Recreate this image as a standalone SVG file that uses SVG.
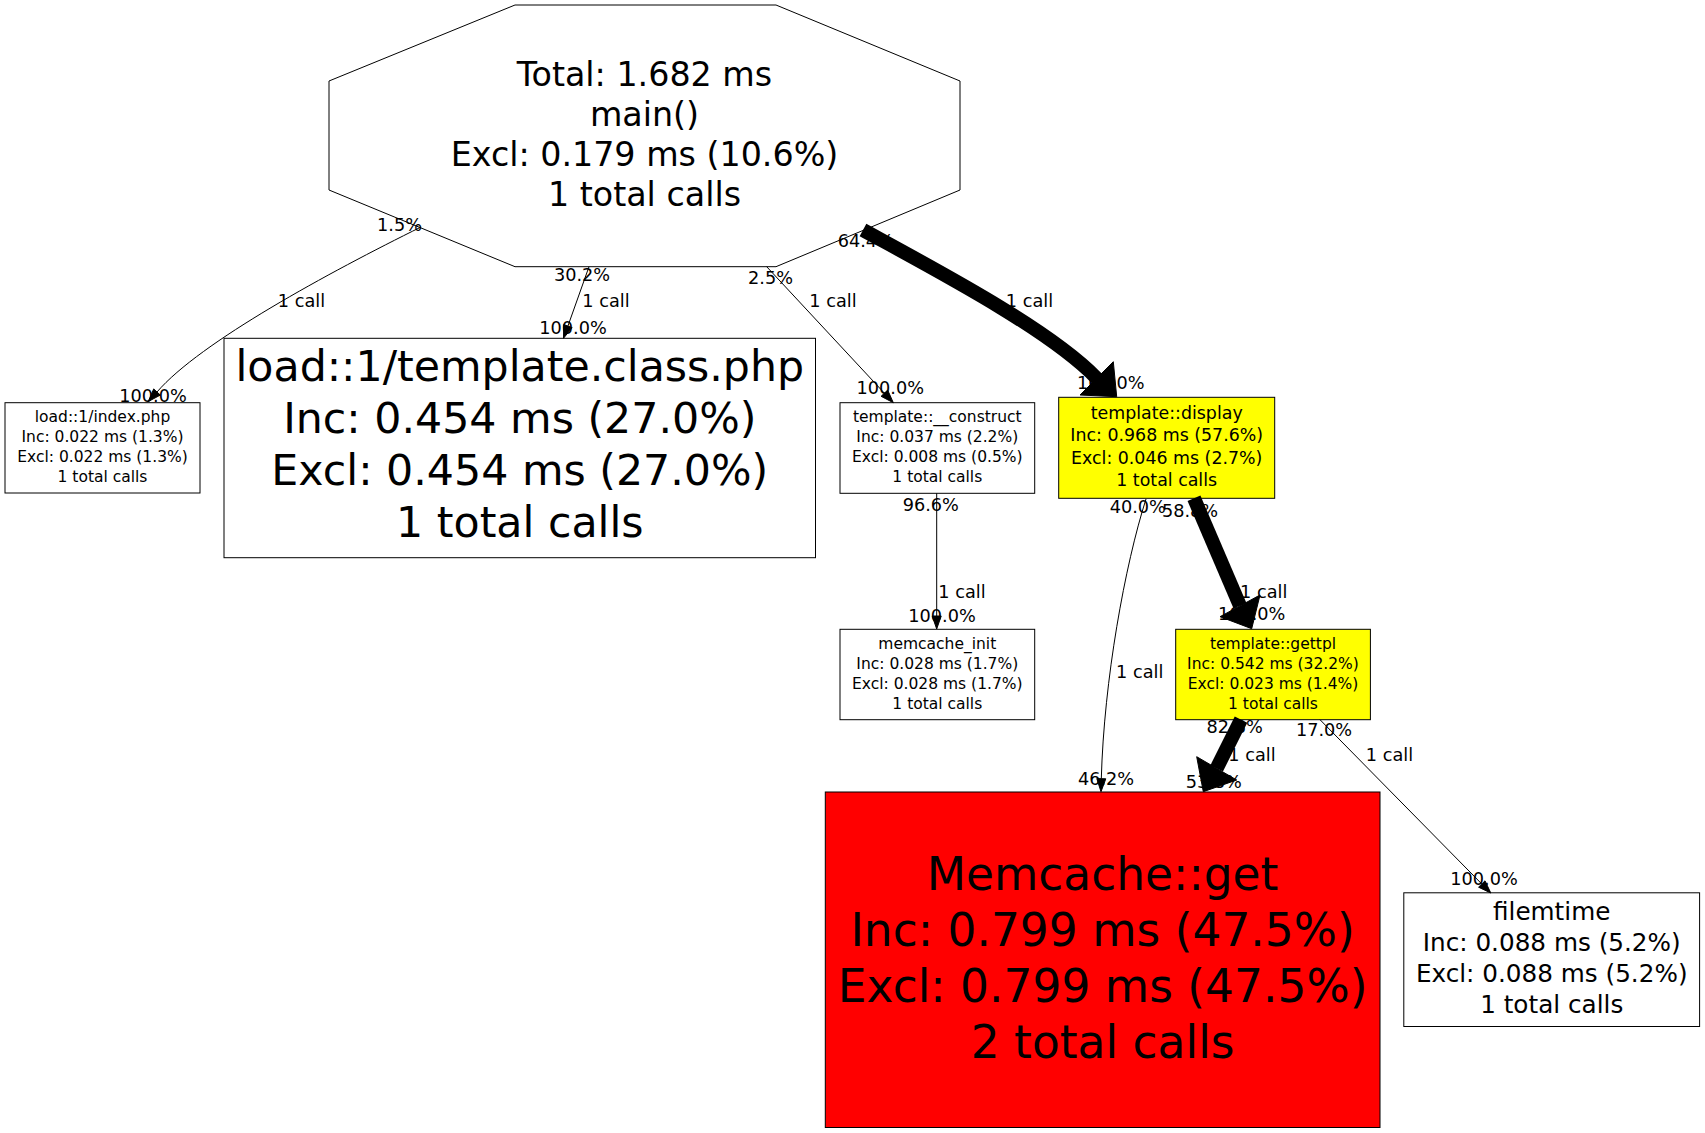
<svg xmlns="http://www.w3.org/2000/svg" width="1705" height="1133" viewBox="0 0 1705 1133">
<style>
.nd{stroke:#000;stroke-width:1;fill:#fff}
.yl{fill:#ffff00}
.rd{fill:#ff0000}
text{font-family:"DejaVu Sans","Liberation Sans",sans-serif;text-anchor:middle;fill:#000}
.f1{font-size:15.5px}
.f2{font-size:17.4px}
.f3{font-size:24.7px}
.f4{font-size:33.3px}
.f5{font-size:42.7px}
.f6{font-size:45.5px}
.lb{font-size:17.7px}
.e{fill:none;stroke:#000;stroke-width:1}
.ek{fill:none;stroke:#000;stroke-width:14}
.ah{fill:#000;stroke:#000;stroke-width:1}
</style>
<rect width="1705" height="1133" fill="#fff"/>
<g id="n_main">
<polygon class="nd" points="515,5 776,5 960,81 960,190 776,266.7 515,266.7 329,190 329,81"/>
<text class="f4" x="644.5" y="86">Total: 1.682 ms</text>
<text class="f4" x="644.5" y="126">main()</text>
<text class="f4" x="644.5" y="166">Excl: 0.179 ms (10.6%)</text>
<text class="f4" x="644.5" y="206">1 total calls</text>
</g>
<g id="n_index">
<rect class="nd" x="5" y="402.7" width="195" height="90.3"/>
<text class="f1" x="102.5" y="422.3">load::1/index.php</text>
<text class="f1" x="102.5" y="442.3">Inc: 0.022 ms (1.3%)</text>
<text class="f1" x="102.5" y="462.3">Excl: 0.022 ms (1.3%)</text>
<text class="f1" x="102.5" y="482.3">1 total calls</text>
</g>
<g id="n_tclass">
<rect class="nd" x="224" y="338.3" width="591.5" height="219.4"/>
<text class="f5" x="519.8" y="381">load::1/template.class.php</text>
<text class="f5" x="519.8" y="433">Inc: 0.454 ms (27.0%)</text>
<text class="f5" x="519.8" y="485">Excl: 0.454 ms (27.0%)</text>
<text class="f5" x="519.8" y="537">1 total calls</text>
</g>
<g id="n_construct">
<rect class="nd" x="840" y="402.7" width="194.7" height="90.6"/>
<text class="f1" x="937.3" y="422.3">template::__construct</text>
<text class="f1" x="937.3" y="442.3">Inc: 0.037 ms (2.2%)</text>
<text class="f1" x="937.3" y="462.3">Excl: 0.008 ms (0.5%)</text>
<text class="f1" x="937.3" y="482.3">1 total calls</text>
</g>
<g id="n_display">
<rect class="nd yl" x="1058.7" y="397.3" width="216" height="101"/>
<text class="f2" x="1166.7" y="418.5">template::display</text>
<text class="f2" x="1166.7" y="441">Inc: 0.968 ms (57.6%)</text>
<text class="f2" x="1166.7" y="463.5">Excl: 0.046 ms (2.7%)</text>
<text class="f2" x="1166.7" y="486">1 total calls</text>
</g>
<g id="n_memcache_init">
<rect class="nd" x="840" y="629.3" width="194.7" height="90.4"/>
<text class="f1" x="937.3" y="649">memcache_init</text>
<text class="f1" x="937.3" y="669">Inc: 0.028 ms (1.7%)</text>
<text class="f1" x="937.3" y="689">Excl: 0.028 ms (1.7%)</text>
<text class="f1" x="937.3" y="709">1 total calls</text>
</g>
<g id="n_gettpl">
<rect class="nd yl" x="1175.7" y="629.3" width="194.7" height="90.4"/>
<text class="f1" x="1273" y="648.5">template::gettpl</text>
<text class="f1" x="1273" y="668.5">Inc: 0.542 ms (32.2%)</text>
<text class="f1" x="1273" y="688.5">Excl: 0.023 ms (1.4%)</text>
<text class="f1" x="1273" y="708.5">1 total calls</text>
</g>
<g id="n_memget">
<rect class="nd rd" x="825.3" y="792" width="554.7" height="335.5"/>
<text class="f6" x="1102.6" y="889.5">Memcache::get</text>
<text class="f6" x="1102.6" y="945.5">Inc: 0.799 ms (47.5%)</text>
<text class="f6" x="1102.6" y="1001.5">Excl: 0.799 ms (47.5%)</text>
<text class="f6" x="1102.6" y="1057.5">2 total calls</text>
</g>
<g id="n_filemtime">
<rect class="nd" x="1403.8" y="892.8" width="295.8" height="133.7"/>
<text class="f3" x="1551.7" y="920">filemtime</text>
<text class="f3" x="1551.7" y="951">Inc: 0.088 ms (5.2%)</text>
<text class="f3" x="1551.7" y="982">Excl: 0.088 ms (5.2%)</text>
<text class="f3" x="1551.7" y="1013">1 total calls</text>
</g>
<g id="edges">
<g id="e_main_index">
<path class="e" d="M421,227 C330,272 200,342 157,392"/>
<polygon class="ah" points="148.2,401.6 160.3,395.1 153.7,388.9"/>
<text class="lb" x="399.5" y="231">1.5%</text>
<text class="lb" x="301.5" y="306.5">1 call</text>
<text class="lb" x="153" y="401.5">100.0%</text>
</g>
<g id="e_main_tclass">
<path class="e" d="M589,266.7 L567.9,326.1"/>
<polygon class="ah" points="563.5,338.3 572.1,327.6 563.7,324.6"/>
<text class="lb" x="582" y="281">30.2%</text>
<text class="lb" x="606" y="306.5">1 call</text>
<text class="lb" x="573" y="333.5">100.0%</text>
</g>
<g id="e_main_construct">
<path class="e" d="M766.7,266.7 L884.4,393.2"/>
<polygon class="ah" points="893.3,402.7 887.7,390.1 881.1,396.3"/>
<text class="lb" x="770.5" y="284">2.5%</text>
<text class="lb" x="833" y="306.5">1 call</text>
<text class="lb" x="890.3" y="394">100.0%</text>
</g>
<g id="e_main_display">
<text class="lb" x="865.8" y="247">64.4%</text>
<text class="lb" x="1029.5" y="306.5">1 call</text>
<text class="lb" x="1110.8" y="388.5">100.0%</text>
<path class="ek" d="M863,230 C940,272 1050,330 1096.7,378.3"/>
<polygon class="ah" points="1116.7,396.7 1080,395 1113.3,361.7"/>
</g>
<g id="e_construct_minit">
<path class="e" d="M936.7,493.3 L936.7,616"/>
<polygon class="ah" points="936.7,629 941.2,616 932.2,616"/>
<text class="lb" x="930.8" y="510.7">96.6%</text>
<text class="lb" x="962" y="598.3">1 call</text>
<text class="lb" x="942" y="621.7">100.0%</text>
</g>
<g id="e_display_memget">
<path class="e" d="M1146,499 C1125,565 1104,680 1101.3,778.7"/>
<polygon class="ah" points="1101,791.7 1105.8,778.8 1096.8,778.6"/>
<text class="lb" x="1137.8" y="513.3">40.0%</text>
<text class="lb" x="1139.7" y="678.3">1 call</text>
<text class="lb" x="1106" y="785">46.2%</text>
</g>
<g id="e_display_gettpl">
<text class="lb" x="1190" y="516.5">58.8%</text>
<text class="lb" x="1263.7" y="598">1 call</text>
<text class="lb" x="1251.7" y="619.5">100.0%</text>
<path class="ek" d="M1194,498.3 L1240,605.8"/>
<polygon class="ah" points="1251.7,628.7 1220,616.7 1260,595"/>
</g>
<g id="e_gettpl_memget">
<text class="lb" x="1234.7" y="732.7">82.8%</text>
<text class="lb" x="1252" y="761">1 call</text>
<text class="lb" x="1213.8" y="788.3">53.8%</text>
<path class="ek" d="M1241,719.7 L1216.7,768.3"/>
<polygon class="ah" points="1203.3,791.7 1196.7,756.7 1236.7,780"/>
</g>
<g id="e_gettpl_filemtime">
<path class="e" d="M1320,719.7 L1481.8,884"/>
<polygon class="ah" points="1490.8,893 1485,880.8 1478.6,887.2"/>
<text class="lb" x="1324" y="736">17.0%</text>
<text class="lb" x="1389.5" y="761">1 call</text>
<text class="lb" x="1484" y="884.5">100.0%</text>
</g>
</g>
</svg>
